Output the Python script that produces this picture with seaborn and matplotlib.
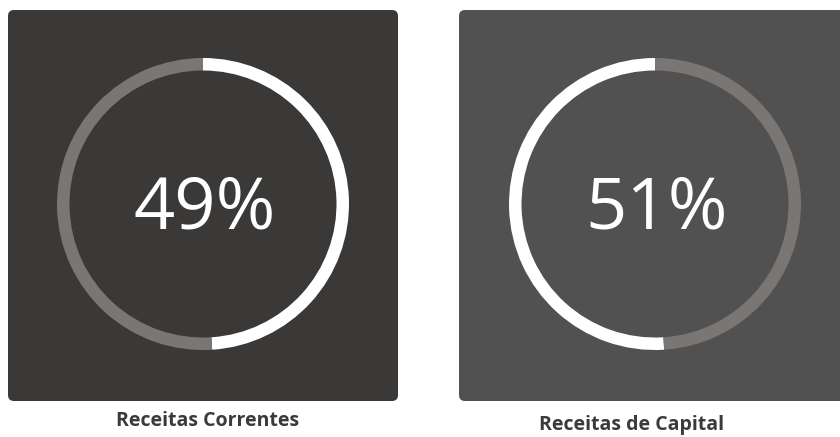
import numpy as np
import pandas as pd
import matplotlib.pyplot as plt
import seaborn as sns
from matplotlib.patches import FancyBboxPatch

sns.set_theme(style="white")
plt.rcParams['font.family'] = ['Open Sans', 'DejaVu Sans']

# data
categories = ['Receitas Correntes', 'Receitas de Capital']
shares = [49, 51]
pct_labels = ['49%', '51%']

panel_colors = ['#3a3937', '#515151']
ring_white = '#ffffff'
ring_gray = '#7a7674'

W, H = 840, 437
fig = plt.figure(figsize=(W / 100, H / 100), dpi=100)
ax = fig.add_axes([0, 0, 1, 1])

# panel boxes (pixel coords, y from top)
panels = [(8, 10, 390, 391), (459, 10, 400, 391)]
centers = [(203, 204), (655, 204)]
label_pos = [(208, 421), (632, 425)]
counter = [False, True]

for i in range(2):
    x0, y0, w, h = panels[i]
    ax.add_patch(FancyBboxPatch((x0, H - y0 - h), w, h,
                                boxstyle='round,pad=0,rounding_size=6',
                                fc=panel_colors[i], ec='none', zorder=1))
    cx, cy = centers[i]
    ax.pie([shares[i], 100 - shares[i]], colors=[ring_white, ring_gray],
           startangle=90, counterclock=counter[i], center=(cx, H - cy),
           radius=146, wedgeprops=dict(width=12.5, linewidth=0), frame=True)
    ax.text(cx + 2, H - cy - 6, pct_labels[i], color='white', fontsize=52,
            fontweight='normal', ha='center', va='center', zorder=5)
    lx, ly = label_pos[i]
    ax.text(lx, H - ly, categories[i], color='#3a3a3a', fontsize=14,
            fontweight='bold', ha='center', va='center', zorder=5)

ax.set_xlim(0, W)
ax.set_ylim(0, H)
ax.set_aspect('equal')
ax.axis('off')
fig.savefig('out.png', dpi=100, facecolor='white')
